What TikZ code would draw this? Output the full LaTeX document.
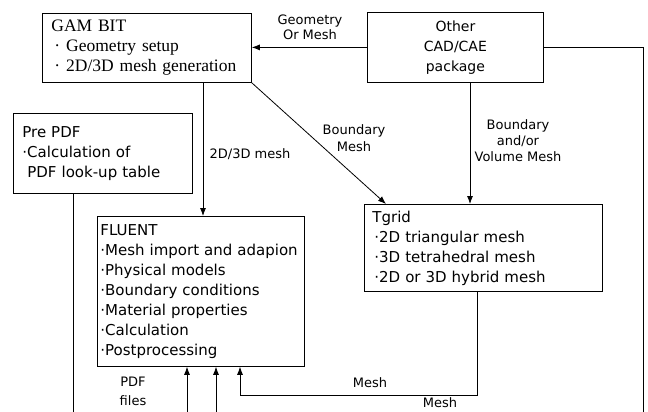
\documentclass[tikz,border=0pt]{standalone}
\usepackage{fontspec}
\setmainfont{DejaVu Sans}
\newfontfamily\gamfont{Liberation Serif}
\usetikzlibrary{arrows.meta}
\begin{document}
\begin{tikzpicture}[x=1pt,y=-1pt,
  box/.style={draw, line width=0.8pt, anchor=north west, inner ysep=0pt, align=left},
  boxtext/.style={font=\fontsize{15}{20}\selectfont},
  lbl/.style={font=\fontsize{13}{16}\selectfont, align=center, inner sep=0pt},
  conn/.style={line width=0.8pt},
  arr/.style={conn, -{Latex[length=8pt,width=6pt]}},
]
\useasboundingbox (0,0) rectangle (648,412);

% boxes
\node[box, inner xsep=9pt, text width=191pt, minimum height=69pt,
      font=\gamfont\fontsize{17.5}{20}\selectfont] (gambit) at (42,13)
  {GAM BIT\\\hspace*{3pt}·\hspace{6pt}Geometry setup\\\hspace*{3pt}·\hspace{6pt}2D/3D mesh generation};
\node[box, align=center, inner xsep=8pt, text width=160pt, minimum height=70pt,
      font=\fontsize{14}{20}\selectfont] (othercad) at (367,12)
  {Other\\CAD/CAE\\package};
\node[box, boxtext, inner xsep=9pt, text width=161pt, minimum height=80pt] (prepdf) at (13,113)
  {Pre PDF\\·Calculation of\\\hspace*{5pt}PDF look-up table};
\node[box, boxtext, inner xsep=3pt, text width=201pt, minimum height=150pt] (fluent) at (97,216)
  {FLUENT\\·Mesh import and adapion\\·Physical models\\·Boundary conditions\\·Material properties\\·Calculation\\·Postprocessing};
\node[box, boxtext, inner xsep=8pt, text width=222pt, minimum height=87pt] (tgrid) at (364,204)
  {Tgrid\\\hspace*{2pt}·2D triangular mesh\\\hspace*{2pt}·3D tetrahedral mesh\\\hspace*{2pt}·2D or 3D hybrid mesh};

% helper coordinates
\coordinate (gx) at (203,0);
\coordinate (tx) at (386,0);
\coordinate (ox) at (470,0);
\coordinate (rb) at (643,412);
\coordinate (pb) at (73,412);
\coordinate (a1) at (187,412);
\coordinate (a2) at (216,412);
\coordinate (m1) at (477,395);
\coordinate (m2) at (240,395);

% connectors
\draw[arr] (othercad.west) -- (othercad.west -| gambit.east);
\draw[conn] (othercad.east) -| (rb);
\draw[arr] (gambit.south -| gx) -- (fluent.north -| gx);
\draw[arr] (gambit.south east) -- (tgrid.north -| tx);
\draw[arr] (othercad.south -| ox) -- (tgrid.north -| ox);
\draw[conn] (prepdf.south -| pb) -- (pb);
\draw[arr] (a1) -- (a1 |- fluent.south);
\draw[arr] (a2) -- (a2 |- fluent.south);
\draw[arr] (tgrid.south -| m1) -- (m1) -- (m2) -- (m2 |- fluent.south);

% labels
\node[lbl, font=\fontsize{13}{15}\selectfont] (lgeo) at (310,27) {Geometry\\Or Mesh};
\node[lbl] (l2d) at (250,154) {2D/3D mesh};
\node[lbl, font=\fontsize{13}{17}\selectfont] (lbm) at (354,138) {Boundary\\Mesh};
\node[lbl] (lbvm) at (518,141) {Boundary\\and/or\\Volume Mesh};
\node[lbl, font=\fontsize{13}{19}\selectfont] (lpdf) at (133,391) {PDF\\files};
\node[lbl] (lmesh1) at (370,383) {Mesh};
\node[lbl] (lmesh2) at (440,403) {Mesh};
\end{tikzpicture}
\end{document}
